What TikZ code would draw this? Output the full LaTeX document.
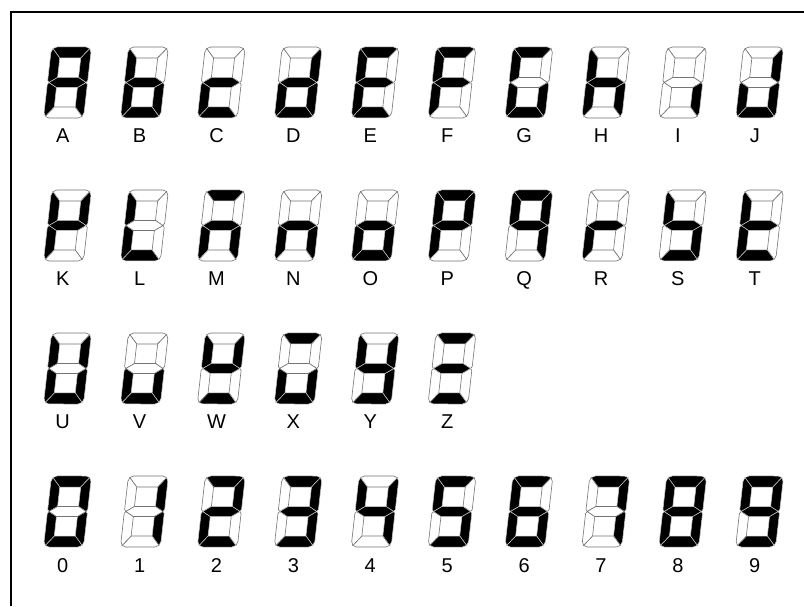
\documentclass[tikz,border=0pt]{standalone}
\usepackage{fontspec}
\newfontfamily\lblfont{Liberation Sans}
\tikzset{
  seg1/.style={fill=black, draw=black!20, line width=0.5},
  seg0/.style={fill=white, draw=black!55, line width=0.6},
  lbl/.style={anchor=base, inner sep=0pt, font=\lblfont\fontsize{20pt}{22pt}\selectfont},
  frameline/.style={draw=black, line width=1.3}
}
% geometry (unslanted, local units = px)
\def\sW{40}\def\sH{71}\def\sth{9.5}\def\stv{11}\def\sr{5.5}\def\sq{3.89}
\def\sdigbits#1#2#3#4#5#6#7#8#9\relax{%
  \begin{scope}[shift={({43.5+76.9*#1},{606-(118+143*#2)})}, xslant=0.113]
    % a
    \path[seg#3] (\sr-\sq,\sH-\sr+\sq) arc[start angle=135,end angle=90,radius=\sr]
       -- (\sW-\sr,\sH) arc[start angle=90,end angle=45,radius=\sr]
       -- (\sW-\sth,\sH-\stv) -- (\sth,\sH-\stv) -- cycle;
    % b
    \path[seg#4] (\sW-\sr+\sq,\sH-\sr+\sq) arc[start angle=45,end angle=0,radius=\sr]
       -- (\sW,37.5) -- (\sW-1.5,35.5) -- (\sW-\sth,40.5) -- (\sW-\sth,\sH-\stv) -- cycle;
    % c
    \path[seg#5] (\sW-1.5,35.5) -- (\sW,33.5) -- (\sW,\sr)
       arc[start angle=0,end angle=-45,radius=\sr]
       -- (\sW-\sth,\stv) -- (\sW-\sth,30.5) -- cycle;
    % d
    \path[seg#6] (\sW-\sr+\sq,\sr-\sq) arc[start angle=-45,end angle=-90,radius=\sr]
       -- (\sr,0) arc[start angle=-90,end angle=-135,radius=\sr]
       -- (\sth,\stv) -- (\sW-\sth,\stv) -- cycle;
    % e
    \path[seg#7] (\sr-\sq,\sr-\sq) arc[start angle=-135,end angle=-180,radius=\sr]
       -- (0,33.5) -- (1.5,35.5) -- (\sth,30.5) -- (\sth,\stv) -- cycle;
    % f
    \path[seg#8] (1.5,35.5) -- (0,37.5) -- (0,\sH-\sr)
       arc[start angle=180,end angle=135,radius=\sr]
       -- (\sth,\sH-\stv) -- (\sth,40.5) -- cycle;
    % g
    \path[seg#9] (1.5,35.5) -- (\sth,40.5) -- (\sW-\sth,40.5) -- (\sW-1.5,35.5)
       -- (\sW-\sth,30.5) -- (\sth,30.5) -- cycle;
  \end{scope}}
\newcommand\sdig[5]{%
  \sdigbits{#1}{#2}#5\relax
  \node[lbl] (#3) at ({62.7+76.9*#1},{606-(118+143*#2)-25}) {#4};}
\begin{document}
\begin{tikzpicture}[x=1pt,y=1pt]
\useasboundingbox (0,0) rectangle (804,606);
\fill[white] (0,0) rectangle (804,606);
\coordinate (fbl) at (11,0);
\coordinate (ftl) at (11,594);
\coordinate (ftr) at (804,594);
\draw[frameline] (fbl) -- (ftl) -- (ftr);
% row 0
\sdig{0}{0}{lA}{A}{1110111}
\sdig{1}{0}{lB}{B}{0011111}
\sdig{2}{0}{lC}{C}{0001101}
\sdig{3}{0}{lD}{D}{0111101}
\sdig{4}{0}{lE}{E}{1001111}
\sdig{5}{0}{lF}{F}{1000111}
\sdig{6}{0}{lG}{G}{1011110}
\sdig{7}{0}{lH}{H}{0010111}
\sdig{8}{0}{lI}{I}{0010000}
\sdig{9}{0}{lJ}{J}{0111100}
% row 1
\sdig{0}{1}{lK}{K}{0100111}
\sdig{1}{1}{lL}{L}{0001110}
\sdig{2}{1}{lM}{M}{1010101}
\sdig{3}{1}{lN}{N}{0010101}
\sdig{4}{1}{lO}{O}{0011101}
\sdig{5}{1}{lP}{P}{1100111}
\sdig{6}{1}{lQ}{Q}{1110011}
\sdig{7}{1}{lR}{R}{0000101}
\sdig{8}{1}{lS}{S}{0011011}
\sdig{9}{1}{lT}{T}{0001111}
% row 2
\sdig{0}{2}{lU}{U}{0111110}
\sdig{1}{2}{lV}{V}{0011100}
\sdig{2}{2}{lW}{W}{0101011}
\sdig{3}{2}{lX}{X}{1011100}
\sdig{4}{2}{lY}{Y}{0111011}
\sdig{5}{2}{lZ}{Z}{1001001}
% row 3
\sdig{0}{3}{l0}{0}{1111110}
\sdig{1}{3}{l1}{1}{0110000}
\sdig{2}{3}{l2}{2}{1101101}
\sdig{3}{3}{l3}{3}{1111001}
\sdig{4}{3}{l4}{4}{0110011}
\sdig{5}{3}{l5}{5}{1011011}
\sdig{6}{3}{l6}{6}{1011111}
\sdig{7}{3}{l7}{7}{1110000}
\sdig{8}{3}{l8}{8}{1111111}
\sdig{9}{3}{l9}{9}{1111011}
\end{tikzpicture}
\end{document}
